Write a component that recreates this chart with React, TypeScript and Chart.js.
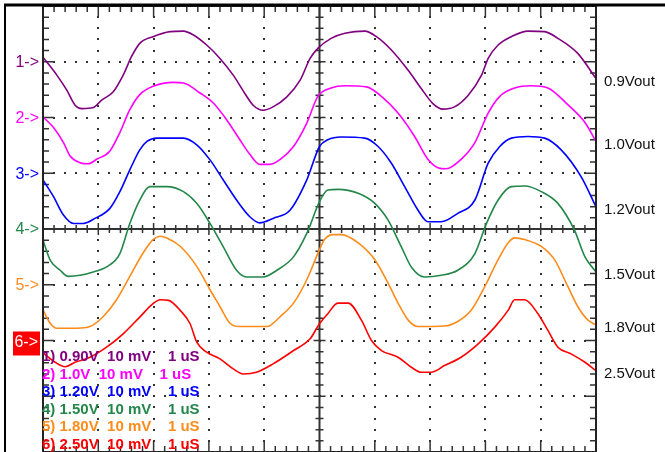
import React, { useEffect, useRef } from "react";
import { Chart, registerables } from "chart.js";

Chart.register(...registerables);

// time (µs) / amplitude (mV, relative to channel marker)
const ch1 = [[0,0.8],[0.25,-2.4],[0.43,-5.1],[0.58,-7.8],[0.70,-8.4],[0.91,-8.2],[1.06,-6.9],[1.27,-5.4],[1.45,-2.4],[1.60,0.9],[1.75,3.3],[1.99,4.5],[2.30,5.4],[2.54,5.5],[2.72,4.8],[2.96,3.0],[3.20,0.6],[3.44,-2.4],[3.65,-5.7],[3.80,-7.8],[3.98,-8.7],[4.16,-8.1],[4.41,-6.3],[4.65,-3.3],[4.83,0.6],[4.97,2.4],[5.21,4.2],[5.46,5.1],[5.82,5.5],[6.03,4.5],[6.30,2.1],[6.60,-1.5],[6.84,-4.8],[7.05,-7.5],[7.23,-8.5],[7.44,-8.1],[7.69,-6.0],[7.93,-2.4],[8.05,0.6],[8.23,3.0],[8.47,4.5],[8.77,5.5],[9.07,5.4],[9.31,4.2],[9.67,1.5],[10,-3.0]];
const ch2 = [[0,0.1],[0.19,-1.8],[0.37,-4.5],[0.49,-6.9],[0.67,-8.1],[0.82,-8.3],[0.97,-7.5],[1.21,-6.0],[1.39,-2.7],[1.57,1.4],[1.75,4.1],[1.99,5.6],[2.36,6.3],[2.54,6.2],[2.84,4.4],[3.08,2.6],[3.32,-0.4],[3.56,-4.0],[3.74,-6.6],[3.92,-8.4],[4.10,-8.4],[4.29,-7.5],[4.53,-5.2],[4.77,-1.0],[4.97,3.8],[5.21,5.3],[5.46,5.7],[5.85,5.5],[6.12,3.8],[6.42,0.8],[6.72,-3.4],[6.96,-7.5],[7.14,-9.0],[7.29,-9.2],[7.56,-7.5],[7.81,-4.5],[8.05,0.8],[8.26,3.8],[8.53,5.3],[8.83,5.7],[9.13,5.3],[9.49,2.3],[9.80,-0.9],[10,-4.3]];
const ch3 = [[0,-1.2],[0.19,-4.2],[0.37,-7.5],[0.55,-9.0],[0.73,-9.0],[0.94,-8.1],[1.21,-6.3],[1.39,-3.3],[1.57,0.6],[1.75,4.2],[1.88,5.7],[2.06,6.3],[2.54,6.3],[2.78,5.1],[3.02,2.4],[3.26,-1.2],[3.50,-4.8],[3.74,-7.8],[3.92,-8.9],[4.16,-8.1],[4.47,-6.6],[4.77,-1.2],[5.00,4.8],[5.15,6.0],[5.39,6.5],[5.82,6.3],[6.06,4.8],[6.30,1.8],[6.54,-2.4],[6.78,-6.6],[6.96,-8.7],[7.20,-8.7],[7.50,-7.2],[7.81,-4.8],[8.05,1.8],[8.26,4.8],[8.47,6.3],[8.77,6.6],[9.07,6.3],[9.37,4.2],[9.73,-0.6],[10,-6.0]];
const ch4 = [[0,-2.0],[0.13,-5.6],[0.31,-7.4],[0.46,-8.5],[0.67,-8.3],[0.91,-7.7],[1.15,-6.8],[1.39,-4.4],[1.57,1.0],[1.75,5.2],[1.93,7.6],[2.24,7.6],[2.54,6.7],[2.78,4.6],[3.02,1.0],[3.26,-3.2],[3.50,-7.4],[3.68,-8.6],[3.98,-8.6],[4.23,-7.4],[4.53,-5.0],[4.77,-0.8],[5.00,4.9],[5.15,7.0],[5.33,7.1],[5.70,6.4],[6.00,4.6],[6.24,1.6],[6.48,-3.2],[6.66,-6.8],[6.90,-8.6],[7.20,-8.3],[7.50,-7.4],[7.81,-4.4],[8.02,1.0],[8.23,5.2],[8.47,7.6],[8.71,7.7],[9.01,6.7],[9.31,4.6],[9.61,-0.2],[9.80,-5.0],[10,-7.7]];
const ch5 = [[0,-4.5],[0.13,-6.9],[0.25,-7.8],[0.61,-7.8],[0.85,-7.5],[1.09,-5.7],[1.33,-2.7],[1.57,1.5],[1.81,5.7],[1.99,8.1],[2.12,8.7],[2.24,8.4],[2.48,6.9],[2.78,3.3],[3.02,-0.9],[3.20,-3.9],[3.38,-6.9],[3.56,-7.5],[4.05,-7.5],[4.29,-5.7],[4.53,-3.3],[4.77,0.9],[5.00,6.3],[5.09,8.1],[5.24,9.0],[5.40,9.0],[5.70,7.5],[6.00,4.5],[6.24,0.3],[6.42,-3.3],[6.60,-6.3],[6.78,-7.5],[7.26,-7.4],[7.50,-6.6],[7.75,-4.5],[7.99,-0.3],[8.23,4.5],[8.41,7.5],[8.53,8.4],[8.71,8.1],[9.01,6.9],[9.25,4.5],[9.49,-0.3],[9.67,-3.9],[9.85,-6.3],[10,-7.2]];
const ch6 = [[0,-2.2],[0.22,-3.9],[0.40,-4.7],[0.58,-3.9],[0.85,-3.0],[1.15,-1.2],[1.45,1.2],[1.75,4.2],[1.99,6.6],[2.12,7.3],[2.27,7.2],[2.48,5.4],[2.66,3.0],[2.78,-0.3],[2.96,-2.1],[3.20,-3.3],[3.44,-5.1],[3.62,-6.0],[3.86,-5.7],[4.16,-4.2],[4.53,-1.8],[4.83,0.3],[5.00,3.0],[5.15,4.8],[5.33,6.7],[5.52,6.7],[5.76,3.6],[5.94,0],[6.12,-1.8],[6.42,-3.0],[6.66,-4.8],[6.84,-5.7],[7.02,-5.7],[7.26,-4.5],[7.56,-3.0],[7.87,-0.6],[8.17,2.4],[8.41,5.4],[8.53,7.3],[8.71,7.3],[8.95,4.8],[9.13,1.8],[9.31,-1.2],[9.55,-2.4],[9.80,-3.9],[10,-5.4]];

const channels = [ch1, ch2, ch3, ch4, ch5, ch6];
const markerLevels = [3, 2, 1, 0, -1, -2]; // divisions
const markerLabels = ["1->", "2->", "3->", "4->", "5->", "6->"];
const channelColors = ["#800080", "#ff00ff", "#0000ff", "#23874a", "#ff8c1a", "#ff0000"];
const legendLines = [
  "1) 0.90V  10 mV    1 uS",
  "2) 1.0V  10 mV    1 uS",
  "3) 1.20V  10 mV    1 uS",
  "4) 1.50V  10 mV    1 uS",
  "5) 1.80V  10 mV    1 uS",
  "6) 2.50V  10 mV    1 uS",
];
const outputLabels = ["0.9Vout", "1.0Vout", "1.2Vout", "1.5Vout", "1.8Vout", "2.5Vout"];
const mVPerDiv = 10;
const xDivs = 10;
const yDivs = 8;

const FONT = "'Liberation Sans', Arial, sans-serif";

const scopePlugin = {
  id: "scope",
  beforeDatasetsDraw(chart: any) {
    const { ctx, chartArea: a, scales } = chart;
    const x = scales.x, y = scales.y;
    ctx.save();
    // dotted grid
    ctx.fillStyle = "#333";
    for (let i = 1; i < xDivs; i++) {
      if (i === xDivs / 2) continue;
      const px = x.getPixelForValue(i);
      for (let j = 1; j < yDivs * 5; j++) {
        const py = y.getPixelForValue(-yDivs / 2 + j * 0.2);
        ctx.fillRect(Math.round(px) - 1, Math.round(py) - 1, 2, 2);
      }
    }
    for (let j = 1; j < yDivs; j++) {
      const v = -yDivs / 2 + j;
      if (v === 0) continue;
      const py = y.getPixelForValue(v);
      for (let i = 1; i < xDivs * 5; i++) {
        const px = x.getPixelForValue(i * 0.2);
        ctx.fillRect(Math.round(px) - 1, Math.round(py) - 1, 2, 2);
      }
    }
    // centre axes
    ctx.strokeStyle = "#333";
    ctx.lineWidth = 2;
    const cx = x.getPixelForValue(xDivs / 2);
    const cy = y.getPixelForValue(0);
    ctx.beginPath();
    ctx.moveTo(cx, a.top); ctx.lineTo(cx, a.bottom);
    ctx.moveTo(a.left, cy); ctx.lineTo(a.right, cy);
    ctx.stroke();
    ctx.lineWidth = 1.5;
    ctx.beginPath();
    for (let i = 1; i < xDivs * 5; i++) {
      const px = x.getPixelForValue(i * 0.2);
      const major = i % 5 === 0;
      const h = major ? 6 : 4;
      ctx.moveTo(px, cy - h); ctx.lineTo(px, cy + h);
      const b = major ? 11 : 6;
      ctx.moveTo(px, a.top); ctx.lineTo(px, a.top + b);
      ctx.moveTo(px, a.bottom); ctx.lineTo(px, a.bottom - b);
    }
    for (let j = 1; j < yDivs * 5; j++) {
      const py = y.getPixelForValue(-yDivs / 2 + j * 0.2);
      const major = j % 5 === 0;
      const h = major ? 6 : 4;
      ctx.moveTo(cx - h, py); ctx.lineTo(cx + h, py);
      const b = major ? 11 : 6;
      ctx.moveTo(a.left, py); ctx.lineTo(a.left + b, py);
      ctx.moveTo(a.right, py); ctx.lineTo(a.right - b, py);
    }
    ctx.stroke();
    ctx.restore();
  },
  afterDatasetsDraw(chart: any) {
    const { ctx, chartArea: a, scales, width, height } = chart;
    const y = scales.y;
    ctx.save();
    // plot border
    ctx.strokeStyle = "#222";
    ctx.lineWidth = 2;
    ctx.strokeRect(a.left, a.top, a.right - a.left, a.bottom - a.top);
    // outer frame
    ctx.strokeStyle = "#000";
    ctx.lineWidth = 3;
    ctx.beginPath();
    ctx.moveTo(4, 5); ctx.lineTo(width, 5);
    ctx.stroke();
    ctx.lineWidth = 2;
    ctx.beginPath();
    ctx.moveTo(5, 4); ctx.lineTo(5, height);
    ctx.stroke();

    // channel markers
    ctx.font = `16px ${FONT}`;
    ctx.textAlign = "right";
    ctx.textBaseline = "middle";
    markerLabels.forEach((lab, i) => {
      const py = y.getPixelForValue(markerLevels[i]);
      ctx.fillStyle = channelColors[i];
      if (i === markerLabels.length - 1) {
        ctx.fillRect(13, py - 9, 27, 24);
        ctx.fillStyle = "#fff";
        ctx.fillText(lab, 38, py + 2);
      } else {
        ctx.fillText(lab, 39, py + 1);
      }
    });

    // output labels at right, next to each trace end
    ctx.font = `15px ${FONT}`;
    ctx.textAlign = "left";
    ctx.fillStyle = "#111";
    outputLabels.forEach((lab, i) => {
      const ch = channels[i];
      const last = ch[ch.length - 1];
      const py = y.getPixelForValue(markerLevels[i] + last[1] / mVPerDiv);
      ctx.fillText(lab, a.right + 8, py + 3);
    });

    // legend text
    ctx.font = `bold 15px ${FONT}`;
    ctx.textAlign = "left";
    const startY = y.getPixelForValue(-2.3);
    legendLines.forEach((line, i) => {
      ctx.fillStyle = channelColors[i];
      ctx.fillText(line, a.left - 1, startY + i * 17.5);
    });
    ctx.restore();
  },
};

export default function App() {
  const ref = useRef<HTMLCanvasElement | null>(null);
  useEffect(() => {
    if (!ref.current) return;
    const datasets = channels.map((ch, i) => ({
      label: markerLabels[i],
      data: ch.map(([t, v]) => ({ x: t, y: markerLevels[i] + v / mVPerDiv })),
      borderColor: channelColors[i],
      borderWidth: 1.6,
      pointRadius: 0,
      cubicInterpolationMode: "monotone" as const,
      fill: false,
    }));
    const chart = new Chart(ref.current, {
      type: "line",
      data: { datasets },
      options: {
        animation: false,
        responsive: false,
        devicePixelRatio: 1,
        layout: { padding: { left: 43, right: 69, top: 6, bottom: 0 } },
        plugins: { legend: { display: false }, tooltip: { enabled: false } },
        scales: {
          x: { type: "linear", min: 0, max: xDivs, display: false },
          y: { type: "linear", min: -yDivs / 2, max: yDivs / 2, display: false },
        },
      },
      plugins: [scopePlugin],
    });
    return () => chart.destroy();
  }, []);
  return (
    <div style={{ position: "fixed", left: 0, top: 0, width: 665, height: 452, background: "#fff" }}>
      <canvas ref={ref} width={665} height={452} style={{ width: 665, height: 452 }} />
    </div>
  );
}
